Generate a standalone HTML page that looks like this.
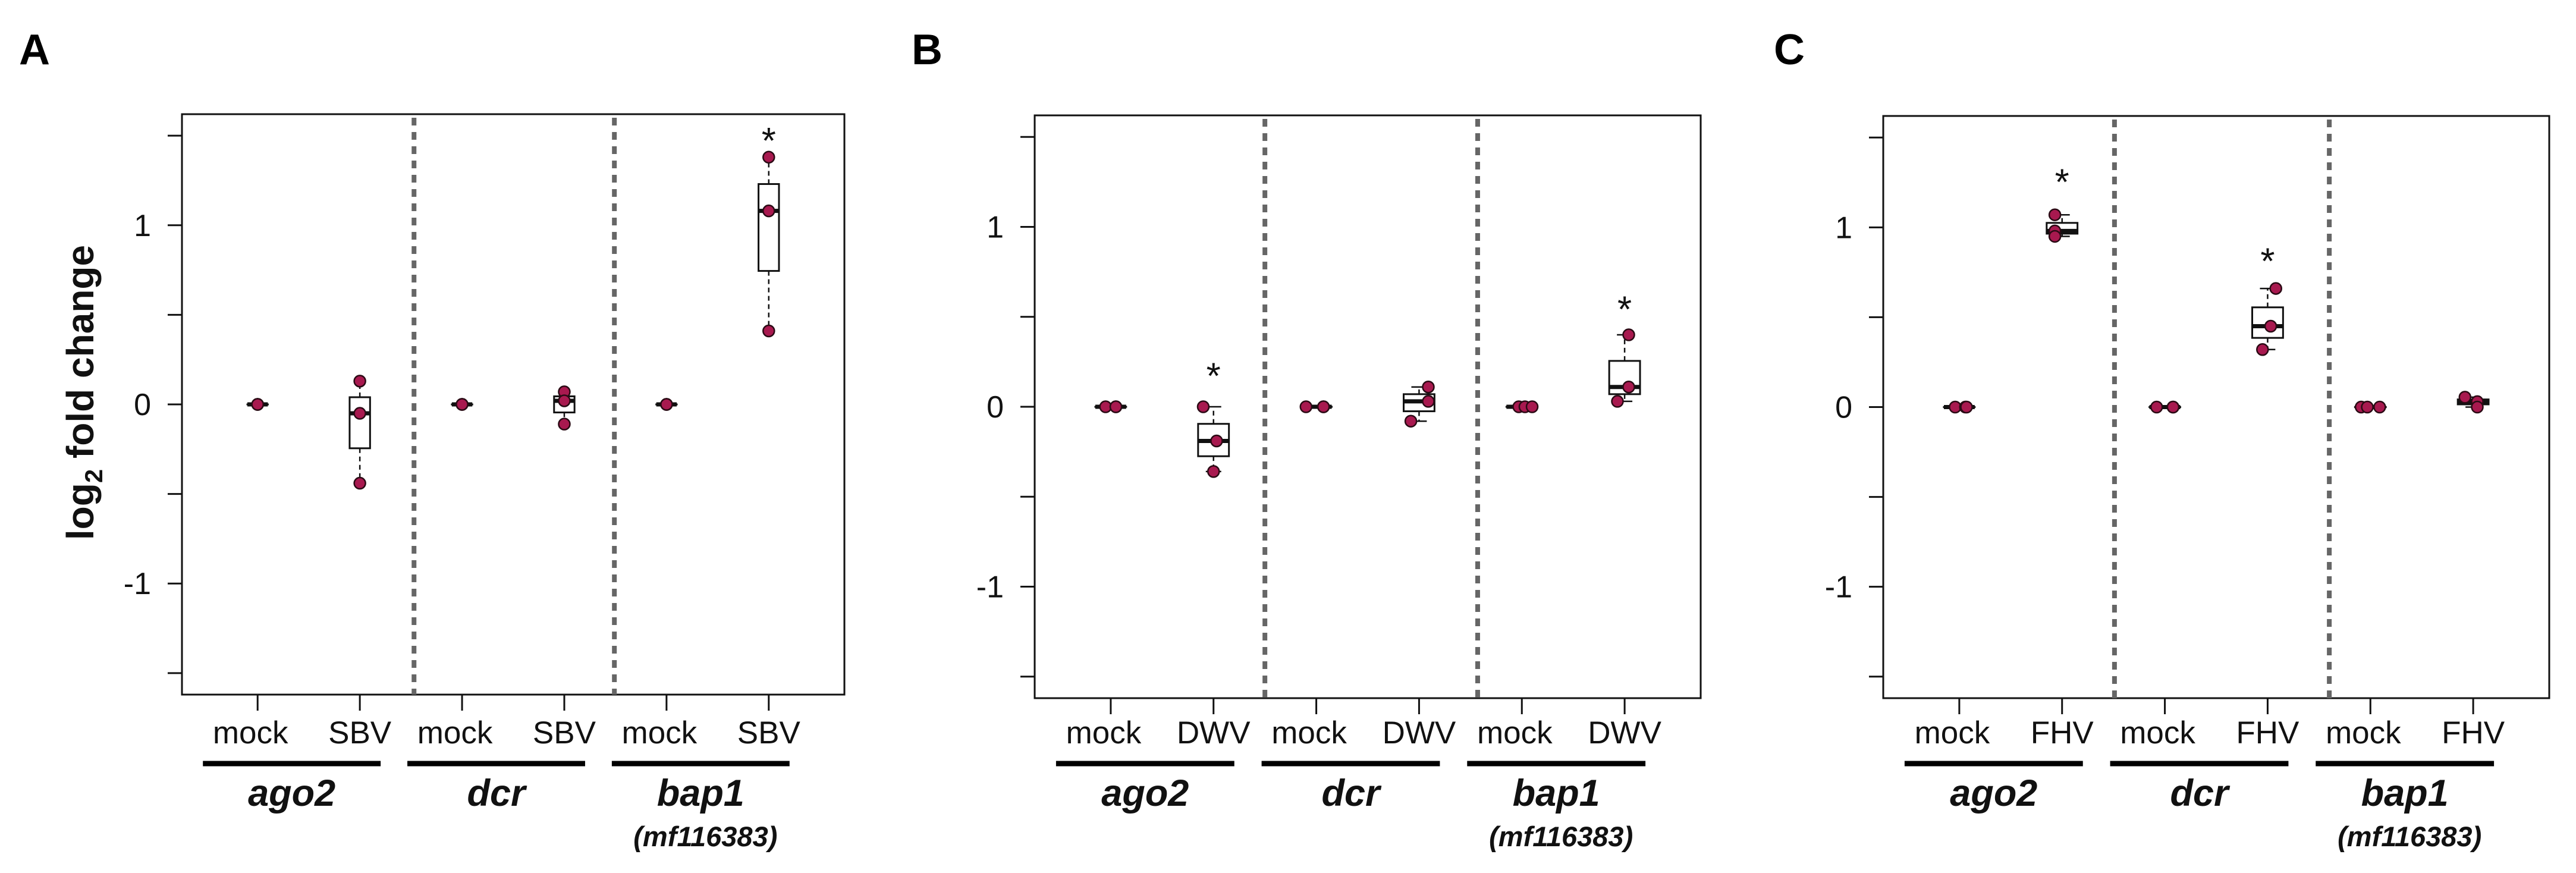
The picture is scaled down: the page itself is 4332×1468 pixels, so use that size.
<!DOCTYPE html>
<html><head><meta charset="utf-8"><style>
html,body{margin:0;padding:0;background:#fff;}
svg{display:block;font-family:"Liberation Sans",Arial,sans-serif;}
</style></head><body>
<svg id="fig" width="4332" height="1468" viewBox="0 0 4332 1468" xmlns="http://www.w3.org/2000/svg">
<text x="157" y="660" transform="rotate(-90 157 660)" text-anchor="middle" font-size="64" font-weight="bold" fill="#111">log<tspan font-size="42" dy="15">2</tspan><tspan dy="-15"> fold change</tspan></text>
</svg>
<script>
// ---- data ----
const panelLetters = ["A","B","C"];
const virusLabels = ["SBV","DWV","FHV"];
const geneLabels = ["ago2","dcr","bap1"];
const yTicks = [-1.5,-1,-0.5,0,0.5,1,1.5];
const yTickLabels = ["","-1","","0","","1",""];
const valuesA = [[0,0,0],[0.13,-0.05,-0.44],[0,0,0],[0.07,0.02,-0.11],[0,0,0],[1.38,1.08,0.41]];
const valuesB = [[0,0,0],[0.0,-0.19,-0.36],[0,0,0],[0.11,0.03,-0.08],[0,0,0],[0.40,0.11,0.03]];
const valuesC = [[0,0,0],[1.07,0.98,0.95],[0,0,0],[0.66,0.45,0.32],[0,0,0],[0.055,0.03,0.0]];
const jitterA = [[0,0,0],[0,0,0],[0,0,0],[0,0,0],[0,0,0],[0,0,0]];
const jitterB = [[-0.05,0.05,0.05],[-0.1,0.03,0],[-0.1,0.07,0.07],[0.09,0.09,-0.08],[-0.03,0.03,0.1],[0.04,0.04,-0.07]];
const jitterC = [[-0.04,0.06,0.07],[-0.07,-0.07,-0.07],[-0.08,0.08,0.08],[0.08,0.03,-0.05],[-0.09,-0.03,0.09],[-0.08,0.04,0.04]];
const starsA = [[6,1.5]];
const starsB = [[2,0.2],[6,0.57]];
const starsC = [[2,1.28],[4,0.84]];
const dividersA = [2.53,4.49];
const dividersB = [2.5,4.57];
const dividersC = [2.51,4.6];

// ---- layout ----
const panels = [
 {vals:valuesA,jit:jitterA,stars:starsA,div:dividersA,left:306,right:1420,top:192,bottom:1168,lx:32,bw:0.2},
 {vals:valuesB,jit:jitterB,stars:starsB,div:dividersB,left:1740,right:2860,top:194,bottom:1174,lx:1533,bw:0.3},
 {vals:valuesC,jit:jitterC,stars:starsC,div:dividersC,left:3167,right:4287,top:195,bottom:1174,lx:2983,bw:0.3}
];
const NS="http://www.w3.org/2000/svg";
const svg=document.getElementById('fig');
function mk(tag,attrs,parent){const e=document.createElementNS(NS,tag);for(const k in attrs)e.setAttribute(k,attrs[k]);(parent||svg).appendChild(e);return e;}
function fivenum(a){const s=[...a].sort((x,y)=>x-y);const n=s.length;const med=n%2?s[(n-1)/2]:(s[n/2-1]+s[n/2])/2;const h=Math.floor((n+3)/2)/2;const lo=(s[Math.floor(h)-1]+s[Math.ceil(h)-1])/2;const hi=(s[n-Math.floor(h)]+s[n-Math.ceil(h)])/2;return [s[0],lo,med,hi,s[n-1]];}

panels.forEach((p,pi)=>{
 const g=mk('g',{});
 
 
 const ylim=1.62;
 const y=v=>p.top+(ylim-v)/(2*ylim)*(p.bottom-p.top);
 const x=pos=>p.left+(pos-0.26)/6.48*(p.right-p.left);
 const lt=mk('text',{x:p.lx,y:108,'font-size':72,'font-weight':'bold',fill:'#000'},g);lt.textContent=panelLetters[pi];
 
 
 const fr=mk('rect',{x:p.left,y:p.top,width:p.right-p.left,height:p.bottom-p.top,fill:'none',stroke:'#111','stroke-width':3},g);
 
 
 yTicks.forEach((t,i)=>{
  const tk=mk('line',{x1:p.left-24,x2:p.left,y1:y(t),y2:y(t),stroke:'#111','stroke-width':3},g);
  
  
  if(yTickLabels[i]){const tl=mk('text',{x:p.left-52,y:y(t)+18,'font-size':52,'text-anchor':'end',fill:'#111'},g);tl.textContent=yTickLabels[i];
   
   }
 });
 p.div.forEach(d=>{const dl=mk('line',{x1:x(d),x2:x(d),y1:p.top+6,y2:p.bottom,stroke:'#666','stroke-width':8,'stroke-dasharray':'13 11'},g);
  
  });
 for(let k=0;k<6;k++){
  const pos=k+1;
  const tk=mk('line',{x1:x(pos),x2:x(pos),y1:p.bottom,y2:p.bottom+27,stroke:'#111','stroke-width':3},g);
  
  
  const tl=mk('text',{x:x(pos)-(k%2?0:12),y:1250,'font-size':53,'text-anchor':'middle',fill:'#111'},g);
  tl.textContent=k%2?virusLabels[pi]:'mock';
  
  
 }
 geneLabels.forEach((gn,j)=>{
  const a=x(2*j+1)-92,b=x(2*j+2)+35;
  const br=mk('line',{x1:a,x2:b,y1:1284,y2:1284,stroke:'#000','stroke-width':9},g);
  
  
  const t=mk('text',{x:(a+b)/2,y:1355,'font-size':63,'font-weight':'bold','font-style':'italic','text-anchor':'middle',fill:'#111'},g);
  t.textContent=gn;
  
  
  if(gn==='bap1'){const m=mk('text',{x:(a+b)/2+8,y:1423,'font-size':47,'font-weight':'bold','font-style':'italic','text-anchor':'middle',fill:'#111'},g);m.textContent='(mf116383)';
   
   }
 });
 p.vals.forEach((vals,k)=>{
  const pos=k+1;const f=fivenum(vals);const hw=p.bw/2*(p.right-p.left)/6.48;const cx=x(pos);
  const bg=mk('g',{},g);
  
  
  if(f[4]>f[3])mk('line',{x1:cx,x2:cx,y1:y(f[3]),y2:y(f[4]),stroke:'#111','stroke-width':2.5,'stroke-dasharray':'8 6'},bg);
  if(f[1]>f[0])mk('line',{x1:cx,x2:cx,y1:y(f[1]),y2:y(f[0]),stroke:'#111','stroke-width':2.5,'stroke-dasharray':'8 6'},bg);
  mk('line',{x1:cx-hw/2,x2:cx+hw/2,y1:y(f[4]),y2:y(f[4]),stroke:'#111','stroke-width':2.5},bg);
  mk('line',{x1:cx-hw/2,x2:cx+hw/2,y1:y(f[0]),y2:y(f[0]),stroke:'#111','stroke-width':2.5},bg);
  mk('rect',{x:cx-hw,y:y(f[3]),width:2*hw,height:Math.max(0.1,y(f[1])-y(f[3])),fill:'#fff',stroke:'#111','stroke-width':3},bg);
  mk('line',{x1:cx-hw,x2:cx+hw,y1:y(f[2]),y2:y(f[2]),stroke:'#111','stroke-width':7},bg);
  vals.forEach((v,i)=>{
   const c=mk('circle',{cx:x(pos+p.jit[k][i]),cy:y(v),r:9.5,fill:'#A8194F',stroke:'#2a0a14','stroke-width':2.5},g);
   
   
  });
 });
 p.stars.forEach(s=>{
  const st=mk('text',{x:x(s[0]),y:y(s[1])+30,'font-size':62,'text-anchor':'middle',fill:'#111'},g);
  st.textContent='*';
  
  
 });
});
</script>
</body></html>
